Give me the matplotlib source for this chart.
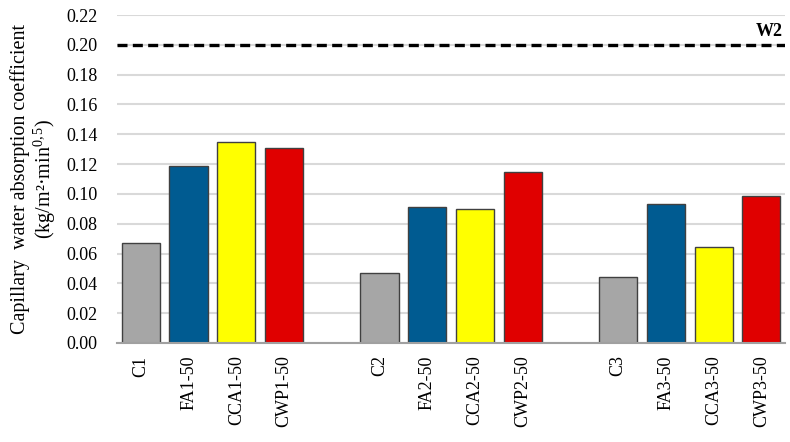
import matplotlib
matplotlib.use("Agg")
import matplotlib.pyplot as plt
import numpy as np

categories = ["C1", "FA1-50", "CCA1-50", "CWP1-50",
              "C2", "FA2-50", "CCA2-50", "CWP2-50",
              "C3", "FA3-50", "CCA3-50", "CWP3-50"]
values = [0.067, 0.119, 0.1345, 0.131,
          0.047, 0.091, 0.090, 0.1145,
          0.0445, 0.0935, 0.0646, 0.0983]
positions = [0, 1, 2, 3, 5, 6, 7, 8, 10, 11, 12, 13]
colors = ["#A6A6A6", "#005B91", "#FFFF00", "#E00000"] * 3
limit_value = 0.20
limit_label = "W2"
yticks = [0.00, 0.02, 0.04, 0.06, 0.08, 0.10, 0.12, 0.14, 0.16, 0.18, 0.20, 0.22]

plt.rcParams['font.family'] = ['Liberation Serif', 'DejaVu Serif']
plt.rcParams['mathtext.fontset'] = 'custom'
plt.rcParams['mathtext.rm'] = 'Liberation Serif'
plt.rcParams['mathtext.it'] = 'Liberation Serif:italic'

fig = plt.figure(figsize=(7.9, 4.42), dpi=100)
ax = fig.add_axes([0.148, 0.224, 0.846, 0.742])

ax.bar(positions, values, width=0.8, color=colors, edgecolor="#404040", linewidth=1.0, zorder=3)
ax.axhline(limit_value, color="black", linewidth=2.4, dashes=(3, 1.6), zorder=4)
ax.text(13.45, limit_value + 0.003, limit_label, ha="right", va="bottom",
        fontsize=13, fontweight="bold")

ax.set_xlim(-0.5, 13.5)
ax.set_ylim(0, 0.22)
ax.set_yticks(yticks)
ax.set_yticklabels([f"{v:.2f}" for v in yticks])
ax.set_xticks(positions)
ax.set_xticklabels(categories, rotation=90, va="top")
ax.tick_params(axis="y", length=0, pad=14, labelsize=13, colors="#333333", labelcolor="black")
ax.tick_params(axis="x", length=0, pad=9, labelsize=13)
ax.grid(axis="y", color="#D9D9D9", linewidth=1.5, zorder=0)
for s in ["top", "right", "left"]:
    ax.spines[s].set_visible(False)
ax.spines["bottom"].set_color("#A0A0A0")
ax.spines["bottom"].set_linewidth(1.5)
ax.spines["bottom"].set_zorder(5)

ax.set_ylabel("Capillary  water absorption coefficient\n(kg/m²·min$^{0,5}$)",
              fontsize=14.5, labelpad=6, linespacing=1.1)

fig.savefig("out.png", dpi=100)
